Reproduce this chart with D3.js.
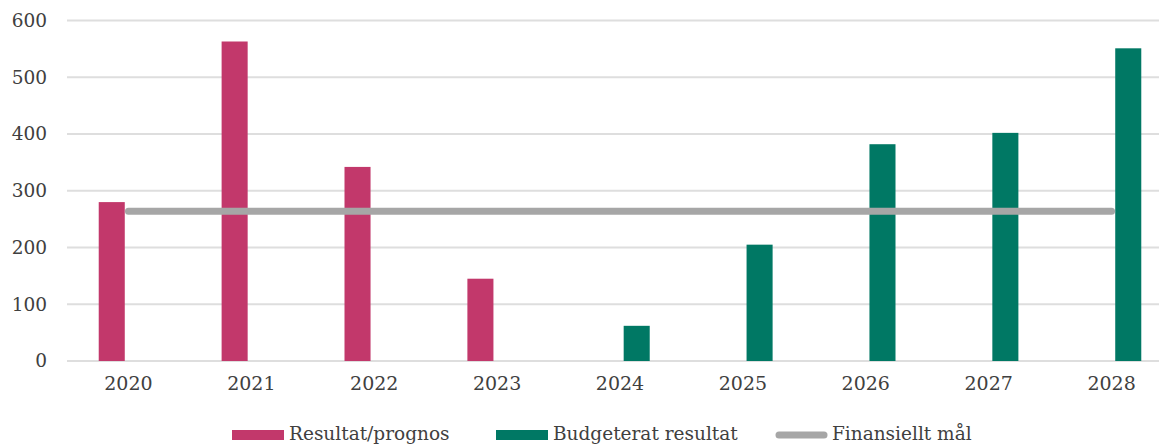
<!DOCTYPE html>
<html>
<head>
<meta charset="utf-8">
<script src="https://cdn.jsdelivr.net/npm/d3@7"></script>
<style>
  body { margin: 0; background: #fff; }
  text { font-family: "DejaVu Serif", Georgia, serif; fill: #404040; }
</style>
</head>
<body>
<div id="chart"></div>
<script>
// data
const years = ["2020", "2021", "2022", "2023", "2024", "2025", "2026", "2027", "2028"]
const resultat = [280, 563, 342, 145, null, null, null, null, null]
const budget = [null, null, null, null, 62, 205, 382, 402, 551]
const mal = [264, 264, 264, 264, 264, 264, 264, 264, 264]
const yTicks = [0, 100, 200, 300, 400, 500, 600]
const seriesNames = ["Resultat/prognos", "Budgeterat resultat", "Finansiellt mål"]

const colors = { pink: "#c2386b", green: "#007864", gray: "#a6a6a6" }

var width = 1159, height = 445
var plot = { left: 67, right: 1173, top: 20.5, bottom: 361 }

var svg = d3.select("#chart").append("svg")
  .attr("width", width)
  .attr("height", height)

const x = d3.scaleBand().domain(years).range([plot.left, plot.right])
const y = d3.scaleLinear().domain([0, 600]).range([plot.bottom, plot.top])
const sub = d3.scaleBand().domain(["r", "b"]).range([0, x.bandwidth()])
  .paddingInner(0.22).paddingOuter(0.95)

// gridlines
svg.append("g").selectAll("line")
  .data(yTicks)
  .enter().append("line")
  .attr("x1", plot.left).attr("x2", width)
  .attr("y1", d => y(d)).attr("y2", d => y(d))
  .attr("stroke", "#dedede")
  .attr("stroke-width", 2)

// y labels
var yAxis = d3.axisLeft(y).tickValues(yTicks).tickSize(0).tickPadding(20)
svg.append("g")
  .attr("transform", "translate(" + plot.left + ",0)")
  .call(yAxis)
  .call(g => g.select(".domain").remove())
  .selectAll("text")
  .attr("font-size", 18.5)
  .attr("font-family", "DejaVu Serif")
  .attr("fill", "#404040")

// x labels
var xAxis = d3.axisBottom(x).tickSize(0).tickPadding(16)
svg.append("g")
  .attr("transform", "translate(0," + plot.bottom + ")")
  .call(xAxis)
  .call(g => g.select(".domain").remove())
  .selectAll("text")
  .attr("font-size", 19)
  .attr("font-family", "DejaVu Serif")
  .attr("fill", "#404040")

// bars
svg.append("g").selectAll("rect")
  .data(years.map((d, i) => ({ year: d, v: resultat[i] })).filter(d => d.v != null))
  .enter().append("rect")
  .attr("x", d => x(d.year) + sub("r"))
  .attr("width", sub.bandwidth())
  .attr("y", d => y(d.v))
  .attr("height", d => y(0) - y(d.v))
  .attr("fill", colors.pink)

svg.append("g").selectAll("rect")
  .data(years.map((d, i) => ({ year: d, v: budget[i] })).filter(d => d.v != null))
  .enter().append("rect")
  .attr("x", d => x(d.year) + sub("b"))
  .attr("width", sub.bandwidth())
  .attr("y", d => y(d.v))
  .attr("height", d => y(0) - y(d.v))
  .attr("fill", colors.green)

// target line
var line = d3.line()
  .x((d, i) => x(years[i]) + x.bandwidth() / 2)
  .y(d => y(d))
svg.append("path")
  .datum(mal)
  .attr("d", line)
  .attr("fill", "none")
  .attr("stroke", colors.gray)
  .attr("stroke-width", 7)
  .attr("stroke-linecap", "round")

// legend
var legY = 434
var leg = svg.append("g").attr("font-size", 18.5)
var items = [
  { name: seriesNames[0], type: "rect", color: colors.pink, x: 232 },
  { name: seriesNames[1], type: "rect", color: colors.green, x: 496 },
  { name: seriesNames[2], type: "line", color: colors.gray, x: 775 }
]
items.forEach(it => {
  if (it.type === "rect") {
    leg.append("rect").attr("x", it.x).attr("y", legY - 4).attr("width", 52).attr("height", 10).attr("fill", it.color)
  } else {
    leg.append("line").attr("x1", it.x + 4).attr("x2", it.x + 49).attr("y1", legY + 1).attr("y2", legY + 1)
      .attr("stroke", it.color).attr("stroke-width", 7).attr("stroke-linecap", "round")
  }
  leg.append("text").attr("x", it.x + 57).attr("y", legY + 6).text(it.name)
})
</script>
</body>
</html>
